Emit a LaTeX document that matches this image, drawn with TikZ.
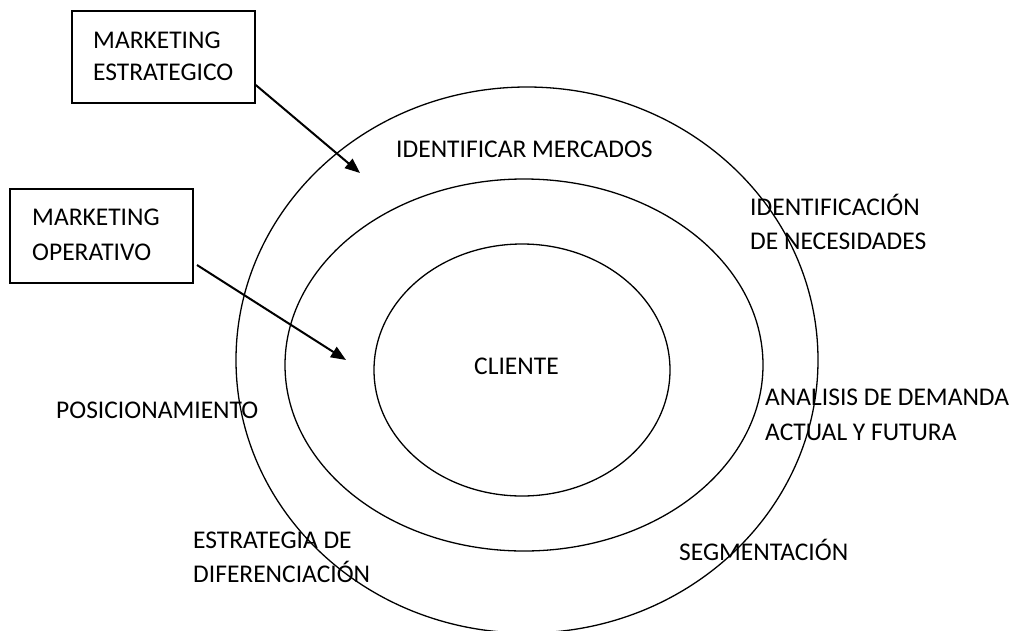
\documentclass[tikz,border=0pt]{standalone}
\usepackage{fontspec}
\setmainfont{Carlito}
\usetikzlibrary{arrows.meta}
\begin{document}
\begin{tikzpicture}[x=1pt,y=-1pt,
  ring/.style={draw, line width=1.3pt},
  boxframe/.style={draw, line width=1.5pt, inner sep=0pt},
  lbl/.style={inner sep=0pt, anchor=base west, align=left,
              font=\fontsize{25.5}{34}\selectfont},
  pointer/.style={line width=2pt, -{Triangle[length=15pt,width=12pt]}}]
\useasboundingbox (0,0) rectangle (1010,630);
\clip (0,0) rectangle (1010,630);

% three concentric rings
\draw[ring] (527,360) ellipse [x radius=291pt, y radius=273pt];
\draw[ring] (524,365) ellipse [x radius=239pt, y radius=186pt];
\draw[ring] (522,370) ellipse [x radius=148pt, y radius=126pt];

% boxes on the left (multi-line labels are placed by their last baseline)
\node[boxframe, minimum width=183pt, minimum height=92pt] (estbox) at (163.5,57) {};
\node[lbl] (esttext) at (93,80) {MARKETING\\[-2pt]ESTRATEGICO};
\node[boxframe, minimum width=183pt, minimum height=94pt] (opbox) at (101.5,236) {};
\node[lbl] (optext) at (32,260) {MARKETING\\[1pt]OPERATIVO};

% arrows pointing into the rings
\coordinate (esttip) at (360,173);
\coordinate (opstart) at (197,265);
\coordinate (optip) at (346,360);
\draw[pointer] (estbox.east |- 0,85) -- (esttip);
\draw[pointer] (opstart) -- (optip);

% ring labels
\node[lbl] (cliente) at (474,374) {CLIENTE};
\node[lbl] (mercados) at (396,157) {IDENTIFICAR MERCADOS};
\node[lbl] (necesidades) at (750,249) {IDENTIFICACIÓN\\DE NECESIDADES};
\node[lbl] (demanda) at (765,440) {ANALISIS DE DEMANDA\\[1pt]ACTUAL Y FUTURA};
\node[lbl] (posicion) at (56,418) {POSICIONAMIENTO};
\node[lbl] (diferencia) at (193,582) {ESTRATEGIA DE\\DIFERENCIACIÓN};
\node[lbl] (segmento) at (679,560) {SEGMENTACIÓN};
\end{tikzpicture}
\end{document}
